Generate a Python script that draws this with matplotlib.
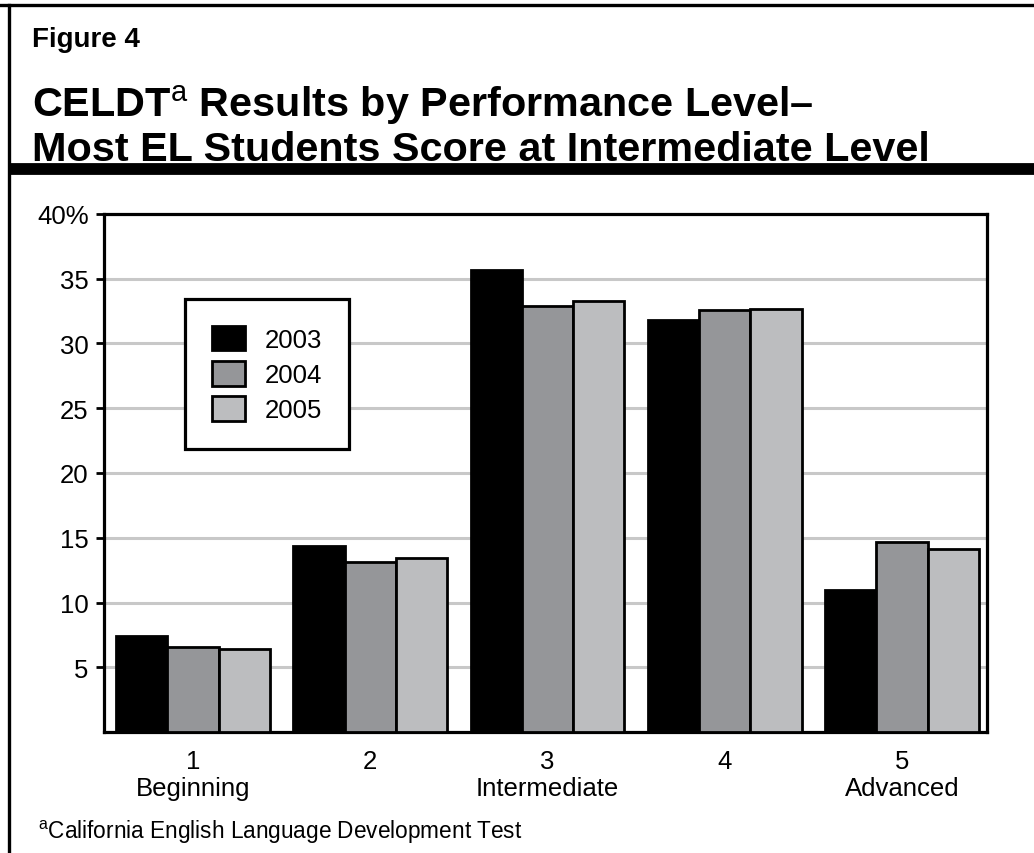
import matplotlib
matplotlib.use("Agg")
import matplotlib.pyplot as plt
import numpy as np

# data (percent of EL students)
levels = ["1\nBeginning", "2", "3\nIntermediate", "4", "5\nAdvanced"]
years = ["2003", "2004", "2005"]
pct_2003 = [7.4, 14.4, 35.7, 31.8, 11.0]
pct_2004 = [6.6, 13.1, 32.9, 32.6, 14.7]
pct_2005 = [6.4, 13.4, 33.3, 32.7, 14.1]
bar_colors = ["#000000", "#959699", "#bcbdbf"]
ytick_vals = [5, 10, 15, 20, 25, 30, 35, 40]

plt.rcParams["font.family"] = ["Liberation Sans", "DejaVu Sans"]
plt.rcParams["mathtext.fontset"] = "custom"
plt.rcParams["mathtext.rm"] = "Liberation Sans"
plt.rcParams["mathtext.bf"] = "Liberation Sans:bold"

W, H = 1034, 854
fig = plt.figure(figsize=(W / 100, H / 100), dpi=100)

# header frame: top rule, left rule, thick band under the title
fig.add_artist(plt.Line2D([0, 1], [1 - 6 / H, 1 - 6 / H], color="black", lw=2.4))
fig.add_artist(plt.Line2D([9 / W, 9 / W], [0, 1 - 6 / H], color="black", lw=2.4))
fig.add_artist(plt.Line2D([9 / W, 1], [1 - 170 / H, 1 - 170 / H], color="black", lw=8.5,
                          solid_capstyle="butt"))

fig.text(32 / W, 1 - 40 / H, "Figure 4", fontsize=20, fontweight="bold", va="center")
fig.text(32 / W, 1 - 105 / H, r"CELDT$^{\mathrm{a}}$ Results by Performance Level–",
         fontsize=29.8, fontweight="bold", va="center")
fig.text(32 / W, 1 - 150 / H, "Most EL Students Score at Intermediate Level",
         fontsize=29.8, fontweight="bold", va="center")

ax = fig.add_axes([104 / W, 121 / H, (987 - 104) / W, (733 - 215) / H])

x = np.arange(len(levels))
w = 0.289
series = [pct_2003, pct_2004, pct_2005]
for i, (vals, col, yr) in enumerate(zip(series, bar_colors, years)):
    ax.bar(x + (i - 1) * w, vals, width=w, color=col, edgecolor="black",
           linewidth=2.0, label=yr, zorder=3)

ax.set_xlim(-0.502, 4.48)
ax.set_ylim(0, 40)
ax.set_yticks(ytick_vals)
ax.set_yticklabels([f"{v}%" if v == 40 else str(v) for v in ytick_vals])
ax.set_xticks(x)
ax.set_xticklabels(levels)

for v in ytick_vals[:-1]:
    ax.axhline(v, color="#c8c8c8", lw=2.2, zorder=1)

for s in ax.spines.values():
    s.set_linewidth(2.3)
ax.tick_params(axis="y", length=6, width=2, pad=5, labelsize=18.5)
ax.tick_params(axis="x", length=0, pad=12, labelsize=18.5)

leg = ax.legend(loc="center", bbox_to_anchor=(267 / W, 1 - 375 / H),
                bbox_transform=fig.transFigure, fontsize=18.5, frameon=True,
                fancybox=False, edgecolor="black", framealpha=1,
                handlelength=1.28, handleheight=1.1, handletextpad=0.75,
                labelspacing=0.36, borderpad=1.05)
leg.get_frame().set_linewidth(2.3)

fig.text(38 / W, 1 - 832 / H, r"$^{\mathrm{a}}$California English Language Development Test",
         fontsize=16.3, va="center")

fig.savefig("out.png", dpi=100)
